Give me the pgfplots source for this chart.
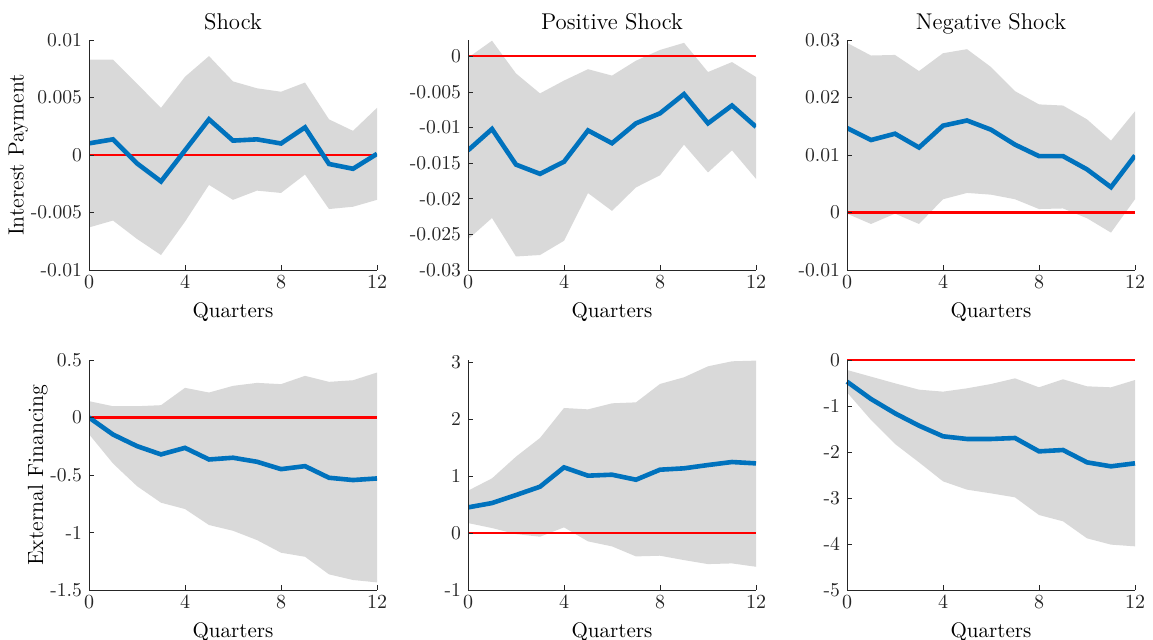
\documentclass[border=0pt]{standalone}
\usepackage{fontspec}
\usepackage{pgfplots}
\usepackage{pgfplotstable}
\pgfplotsset{compat=1.18}
\usepgfplotslibrary{fillbetween}
\definecolor{mblue}{RGB}{0,114,189}
\definecolor{band}{RGB}{217,217,217}
\definecolor{axgray}{RGB}{38,38,38}

\pgfplotstableread{
k lo m hi
0 -0.0063 0.00101 0.0083
1 -0.0057 0.00136 0.0083
2 -0.0073 -0.00073 0.0062
3 -0.0087 -0.0023 0.0041
4 -0.0058 0.0004 0.0068
5 -0.0026 0.0031 0.0086
6 -0.0039 0.00125 0.0064
7 -0.0031 0.00136 0.0058
8 -0.0033 0.0010 0.0055
9 -0.0017 0.0024 0.0063
10 -0.0047 -0.00078 0.0031
11 -0.0045 -0.0012 0.0021
12 -0.0039 0.0001 0.0041
}\tA

\pgfplotstableread{
k lo m hi
0 -0.0257 -0.0132 -0.0002
1 -0.0227 -0.0102 0.0022
2 -0.0281 -0.0152 -0.0024
3 -0.0279 -0.0165 -0.0052
4 -0.0259 -0.0148 -0.0034
5 -0.0192 -0.0104 -0.0018
6 -0.0217 -0.0122 -0.0027
7 -0.0184 -0.0094 -0.0006
8 -0.0167 -0.0080 0.0009
9 -0.0124 -0.0053 0.0019
10 -0.0163 -0.0094 -0.0022
11 -0.0132 -0.0069 -0.0008
12 -0.0172 -0.0099 -0.0029
}\tB

\pgfplotstableread{
k lo m hi
0 -0.0002 0.0147 0.0295
1 -0.0020 0.0126 0.0273
2 -0.0002 0.0137 0.0274
3 -0.0020 0.0113 0.0246
4 0.0023 0.0151 0.0277
5 0.0034 0.0160 0.0284
6 0.0031 0.0144 0.0253
7 0.0023 0.0118 0.0211
8 0.0006 0.0098 0.0188
9 0.0007 0.0098 0.0186
10 -0.0010 0.0075 0.0162
11 -0.0035 0.0044 0.0125
12 0.0023 0.0099 0.0176
}\tC

\pgfplotstableread{
k lo m hi
0 -0.145 0 0.142
1 -0.400 -0.148 0.098
2 -0.597 -0.249 0.098
3 -0.741 -0.321 0.107
4 -0.796 -0.264 0.258
5 -0.935 -0.365 0.217
6 -0.985 -0.350 0.275
7 -1.066 -0.385 0.301
8 -1.176 -0.449 0.290
9 -1.211 -0.423 0.362
10 -1.364 -0.524 0.310
11 -1.413 -0.544 0.324
12 -1.434 -0.530 0.391
}\tD

\pgfplotstableread{
k lo m hi
0 0.176 0.451 0.744
1 0.088 0.527 0.961
2 -0.018 0.668 1.342
3 -0.064 0.814 1.670
4 0.100 1.154 2.197
5 -0.146 1.008 2.173
6 -0.234 1.025 2.279
7 -0.410 0.937 2.296
8 -0.398 1.113 2.619
9 -0.475 1.137 2.736
10 -0.545 1.195 2.929
11 -0.533 1.248 3.017
12 -0.592 1.224 3.029
}\tE

\pgfplotstableread{
k lo m hi
0 -0.703 -0.471 -0.217
1 -1.304 -0.848 -0.362
2 -1.826 -1.159 -0.507
3 -2.225 -1.428 -0.645
4 -2.638 -1.659 -0.688
5 -2.819 -1.717 -0.616
6 -2.899 -1.717 -0.522
7 -2.986 -1.696 -0.399
8 -3.370 -1.986 -0.594
9 -3.507 -1.957 -0.420
10 -3.877 -2.225 -0.572
11 -4.014 -2.312 -0.594
12 -4.051 -2.246 -0.435
}\tF

\pgfplotsset{irf/.style={
  scale only axis, width=144pt, height=115pt,
  anchor=north west,
  xmin=0, xmax=12, xtick={0,4,8,12},
  axis x line*=bottom, axis y line*=left,
  axis line style={axgray, line width=0.4pt, -},
  tick style={axgray, line width=0.4pt},
  tick align=inside, major tick length=2.5pt,
  scaled y ticks=false,
  ticklabel style={font=\fontsize{9.8}{11}\selectfont, text=axgray},
  xticklabel style={yshift=0.5pt},
  label style={font=\fontsize{10.5}{12}\selectfont},
  ylabel style={font=\fontsize{11}{12}\selectfont, yshift=-5.5pt},
  title style={font=\fontsize{11.4}{13}\selectfont, at={(axis description cs:0.5,1)}, anchor=base, yshift=-0.6pt},
  xlabel={Quarters},
  axis on top,
}}

\newcommand{\irfplots}[1]{%
  \addplot[name path=hi, draw=none] table[x=k,y=hi]{#1};
  \addplot[name path=lo, draw=none] table[x=k,y=lo]{#1};
  \addplot[band, draw=none] fill between[of=hi and lo];
  \addplot[red, line width=1.1pt] coordinates {(0,0) (12,0)};
  \addplot[mblue, line width=2.3pt] table[x=k,y=m]{#1};
}

\begin{document}
\begin{tikzpicture}

\begin{axis}[irf, at={(44.5pt,-20pt)}, title={Shock}, ylabel={Interest Payment},
  ymin=-0.01, ymax=0.01, ytick={-0.01,-0.005,0,0.005,0.01},
  yticklabels={-0.01,-0.005,0,0.005,0.01}]
\irfplots{\tA}
\end{axis}

\begin{axis}[irf, at={(234pt,-20pt)}, title={Positive Shock},
  ymin=-0.03, ymax=0.0023, ytick={-0.03,-0.025,-0.02,-0.015,-0.01,-0.005,0},
  yticklabels={-0.03,-0.025,-0.02,-0.015,-0.01,-0.005,0}]
\irfplots{\tB}
\end{axis}

\begin{axis}[irf, at={(423.5pt,-20pt)}, title={Negative Shock},
  ymin=-0.01, ymax=0.03, ytick={-0.01,0,0.01,0.02,0.03},
  yticklabels={-0.01,0,0.01,0.02,0.03}]
\irfplots{\tC}
\end{axis}

\begin{axis}[irf, at={(44.5pt,-180pt)}, ylabel={External Financing},
  ymin=-1.5, ymax=0.5, ytick={-1.5,-1,-0.5,0,0.5},
  yticklabels={-1.5,-1,-0.5,0,0.5}]
\irfplots{\tD}
\end{axis}

\begin{axis}[irf, at={(234pt,-180pt)},
  ymin=-1, ymax=3.04, ytick={-1,0,1,2,3},
  yticklabels={-1,0,1,2,3}]
\irfplots{\tE}
\end{axis}

\begin{axis}[irf, at={(423.5pt,-180pt)}, clip=false,
  ymin=-5, ymax=0, ytick={-5,-4,-3,-2,-1,0},
  yticklabels={-5,-4,-3,-2,-1,0}]
\irfplots{\tF}
\end{axis}

\pgfresetboundingbox
\path[use as bounding box] (0,0) rectangle (576.5pt,-320pt);
\end{tikzpicture}
\end{document}
